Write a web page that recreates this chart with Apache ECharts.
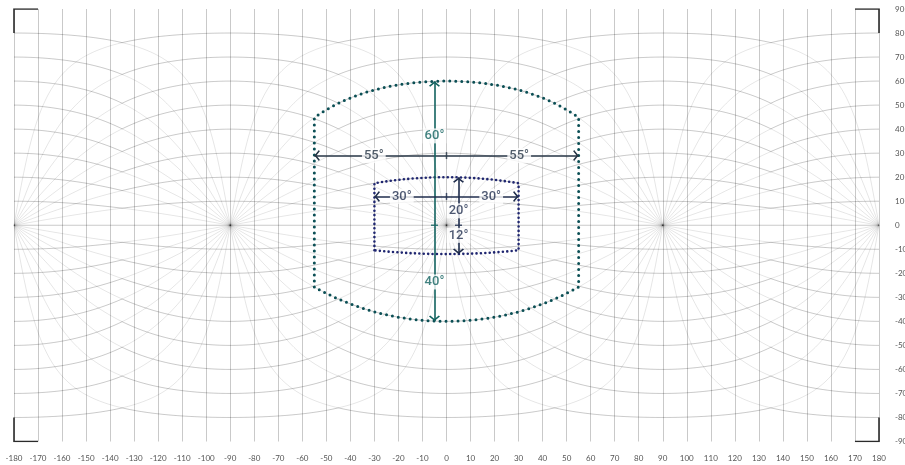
<!DOCTYPE html>
<html>
<head>
<meta charset="utf-8">
<script src="https://cdn.jsdelivr.net/npm/echarts@6/dist/echarts.min.js"></script>
<style>
html,body{margin:0;padding:0;background:#fff;}
#chart{width:905px;height:465px;}
</style>
</head>
<body>
<div id="chart"></div>
<script>
// ---------- DATA ----------
const lonTicks = [-180,-170,-160,-150,-140,-130,-120,-110,-100,-90,-80,-70,-60,-50,-40,-30,-20,-10,0,10,20,30,40,50,60,70,80,90,100,110,120,130,140,150,160,170,180];
const latTicks = [-90,-80,-70,-60,-50,-40,-30,-20,-10,0,10,20,30,40,50,60,70,80,90];
// tilt angles of the rotated graticule great circles (degrees)
const gridAngles = [-80,-70,-60,-50,-40,-30,-20,-10,10,20,30,40,50,60,70,80];

// field of view extents (degrees): outer (wide) and inner (narrow)
const fovNames  = ['outer', 'inner'];
const fovLeft   = [55, 30];
const fovRight  = [55, 30];
const fovUp     = [60, 20];
const fovDown   = [40, 12];

// ---------- LAYOUT / STYLE ----------
const LAYOUT = {
  hArrowLat: [29, 12],
  vArrowLon: [-5, 5],
  hLabelFrac: [0.55, 0.62],
  upLabelFrac: [0.62, 0.3],
  downLabelFrac: [0.59, 0.35],
  bracket: 10
};
const STYLE = {
  gridDark: 'rgba(0,0,0,0.21)',
  gridLight: 'rgba(0,0,0,0.1)',
  outline: ['#0b4f55', '#1f2670'],
  outlineWidth: [3, 2.6],
  dotGap: [6, 4.4],
  hArrow: ['#263545', '#1f2d4d'],
  vArrow: ['#12625f', '#1f2d4d'],
  bracket: '#2b2b2b'
};

// ---------- GEOMETRY (equirectangular projection of rectilinear edges) ----------
const R = Math.PI / 180;
// great circle through (lon=±90, lat=0) tilted by angle a
function edgeLat(a, lon) { return Math.atan(Math.tan(a * R) * Math.cos(lon * R)) / R; }
// great circle through (lon=0/180, lat=0) tilted by angle a
function sideLat(a, lon) { return Math.atan(Math.tan(a * R) * Math.sin(lon * R)) / R; }

function sample(fn, a, from, to, step) {
  const pts = [];
  const n = Math.max(1, Math.round(Math.abs(to - from) / step));
  for (let k = 0; k <= n; k++) {
    const lon = from + (to - from) * k / n;
    pts.push([lon, fn(a, lon)]);
  }
  return pts;
}

const frontRanges = [[-180, -135], [-45, 45], [135, 180]];
const sideRanges = [[-135, -45], [45, 135]];

const gridData = [];
gridAngles.forEach(a => {
  frontRanges.forEach(r => gridData.push({ coords: sample(edgeLat, a, r[0], r[1], 0.5), lineStyle: { color: STYLE.gridDark } }));
  sideRanges.forEach(r => gridData.push({ coords: sample(edgeLat, a, r[0], r[1], 0.5), lineStyle: { color: STYLE.gridLight } }));
  sideRanges.forEach(r => gridData.push({ coords: sample(sideLat, a, r[0], r[1], 0.5), lineStyle: { color: STYLE.gridDark } }));
  frontRanges.forEach(r => gridData.push({ coords: sample(sideLat, a, r[0], r[1], 0.5), lineStyle: { color: STYLE.gridLight } }));
});
gridData.push({ coords: [[lonTicks[0], 0], [lonTicks[lonTicks.length - 1], 0]], lineStyle: { color: STYLE.gridDark } });

// corner brackets
const xMin = lonTicks[0], xMax = lonTicks[lonTicks.length - 1];
const yMin = latTicks[0], yMax = latTicks[latTicks.length - 1];
const b = LAYOUT.bracket;
const bracketData = [
  [[xMin, yMax - b], [xMin, yMax], [xMin + b, yMax]],
  [[xMax - b, yMax], [xMax, yMax], [xMax, yMax - b]],
  [[xMin, yMin + b], [xMin, yMin], [xMin + b, yMin]],
  [[xMax - b, yMin], [xMax, yMin], [xMax, yMin + b]]
].map(c => ({ coords: c }));

function outline(i) {
  const L = -fovLeft[i], Rr = fovRight[i], U = fovUp[i], Dn = -fovDown[i];
  const pts = [[L, edgeLat(Dn, L)]];
  sample(edgeLat, U, L, Rr, 1).forEach(p => pts.push(p));
  sample(edgeLat, Dn, Rr, L, 1).forEach(p => pts.push(p));
  return pts;
}

const CHEVRON = 'path://M4,0L4,0M0,9L4,5L8,9L7.1,9.9L4,6.8L0.9,9.9Z';

const arrowData = [];
const tickData = [];
const labelData = [];
fovNames.forEach((nm, i) => {
  const y = LAYOUT.hArrowLat[i];
  const x = LAYOUT.vArrowLon[i];
  arrowData.push({ coords: [[0, y], [-fovLeft[i], y]], lineStyle: { color: STYLE.hArrow[i] } });
  arrowData.push({ coords: [[0, y], [fovRight[i], y]], lineStyle: { color: STYLE.hArrow[i] } });
  arrowData.push({ coords: [[x, 0], [x, edgeLat(fovUp[i], x)]], lineStyle: { color: STYLE.vArrow[i] } });
  arrowData.push({ coords: [[x, 0], [x, edgeLat(-fovDown[i], x)]], lineStyle: { color: STYLE.vArrow[i] } });

  tickData.push({ value: [0, y], symbolSize: [1.5, 7], itemStyle: { color: STYLE.hArrow[i] } });
  tickData.push({ value: [x, 0], symbolSize: [7, 1.5], itemStyle: { color: STYLE.vArrow[i] } });

  labelData.push({ value: [-fovLeft[i] * LAYOUT.hLabelFrac[i], y], name: fovLeft[i] + '°', label: { color: STYLE.hArrow[i] } });
  labelData.push({ value: [fovRight[i] * LAYOUT.hLabelFrac[i], y], name: fovRight[i] + '°', label: { color: STYLE.hArrow[i] } });
  labelData.push({ value: [x, fovUp[i] * LAYOUT.upLabelFrac[i]], name: fovUp[i] + '°', label: { color: STYLE.vArrow[i] } });
  labelData.push({ value: [x, -fovDown[i] * LAYOUT.downLabelFrac[i]], name: fovDown[i] + '°', label: { color: STYLE.vArrow[i] } });
});

const outlineSeries = fovNames.map((nm, i) => ({
  type: 'line',
  name: nm,
  data: outline(i),
  showSymbol: false,
  symbol: 'none',
  silent: true,
  z: 3,
  lineStyle: { color: STYLE.outline[i], width: STYLE.outlineWidth[i], type: [0, STYLE.dotGap[i]], cap: 'round' }
}));

const chart = echarts.init(document.getElementById('chart'), null, { renderer: 'canvas' });
chart.setOption({
  animation: false,
  backgroundColor: '#fff',
  grid: { left: 14, right: 26, top: 9, bottom: 23.5, containLabel: false, outerBoundsMode: 'none' },
  xAxis: {
    type: 'value', min: xMin, max: xMax, interval: 10,
    axisLine: { show: false }, axisTick: { show: false },
    axisLabel: { margin: 13, fontSize: 8, color: '#555', fontFamily: 'Lato',
      formatter: v => lonTicks.indexOf(v) >= 0 ? String(v) : '' },
    splitLine: { show: true, lineStyle: { color: STYLE.gridDark, width: 1 } }
  },
  yAxis: {
    type: 'value', position: 'right', min: yMin, max: yMax, interval: 10,
    axisLine: { show: false }, axisTick: { show: false },
    axisLabel: { margin: 16, fontSize: 8, color: '#555', fontFamily: 'Lato',
      formatter: v => latTicks.indexOf(v) >= 0 ? String(v) : '' },
    splitLine: { show: false }
  },
  series: [
    {
      type: 'lines', coordinateSystem: 'cartesian2d', polyline: true, silent: true, z: 1,
      lineStyle: { width: 1, opacity: 1 },
      data: gridData
    },
    {
      type: 'lines', coordinateSystem: 'cartesian2d', polyline: true, silent: true, z: 2,
      lineStyle: { width: 1.6, color: STYLE.bracket, opacity: 1 },
      data: bracketData
    },
    ...outlineSeries,
    {
      type: 'lines', coordinateSystem: 'cartesian2d', silent: true, z: 4,
      symbol: ['none', CHEVRON], symbolSize: [9, 11],
      lineStyle: { width: 1.6, opacity: 1 },
      data: arrowData
    },
    {
      type: 'scatter', symbol: 'rect', silent: true, z: 5,
      data: tickData
    },
    {
      type: 'scatter', symbolSize: 0, silent: true, z: 6,
      data: labelData,
      label: {
        show: true, position: 'inside', formatter: '{b}',
        fontFamily: 'Roboto', fontSize: 13, fontWeight: 500,
        backgroundColor: '#fff', padding: [1, 2]
      }
    }
  ]
});
</script>
</body>
</html>
